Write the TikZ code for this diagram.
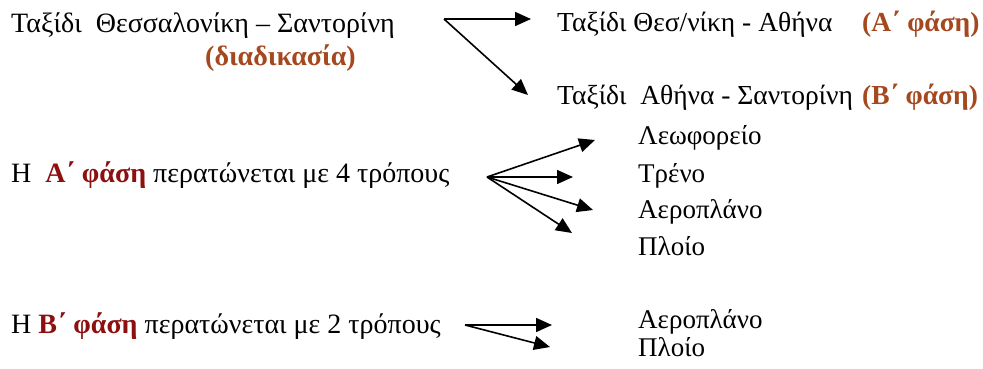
\documentclass[tikz,border=0pt]{standalone}
\usepackage{fontspec}
\setmainfont{Liberation Serif}
\usetikzlibrary{arrows.meta}

\definecolor{PhaseBrown}{RGB}{165,72,30}
\definecolor{PhaseRed}{RGB}{140,16,16}

\tikzset{
	BigText/.style={anchor=base west, inner sep=0pt, font=\fontsize{28}{32}\selectfont},
	MidText/.style={anchor=base west, inner sep=0pt, font=\fontsize{27.5}{31}\selectfont},
	ListText/.style={anchor=base west, inner sep=0pt, font=\fontsize{27}{31}\selectfont},
	Phase/.style={text=PhaseBrown, font=\fontsize{27.5}{31}\selectfont\bfseries},
	Route/.style={line width=1.6pt, -{Triangle[length=16pt,width=14pt]}}
}

\begin{document}
\begin{tikzpicture}[x=1pt,y=-1pt]
	\useasboundingbox (0,0) rectangle (983,369);
	
	% whole trip and its two legs
	\node[BigText] (TripFull) at (11,33) {Ταξίδι\ \ Θεσσαλονίκη – Σαντορίνη};
	\node[BigText, text=PhaseBrown, font=\fontsize{28}{32}\selectfont\bfseries] (Process) at (205,66) {(διαδικασία)};
	\node[MidText] (TripA) at (557,32) {Ταξίδι Θεσ/νίκη - Αθήνα};
	\node[MidText, Phase] (PhaseA) at (862,32) {(Α΄ φάση)};
	\node[MidText] (TripB) at (557,104) {Ταξίδι\ \ Αθήνα - Σαντορίνη};
	\node[MidText, Phase] (PhaseB) at (862,104) {(Β΄ φάση)};
	
	\coordinate (Split) at (444,19);
	\coordinate (ToA)   at (531,19);
	\coordinate (ToB)   at (528,95);
	\draw [Route] (Split) -- (ToA);% first leg
	\draw [Route] (Split) -- (ToB);% second leg
	
	% first phase: four ways
	\node[BigText] (WaysA) at (11,182) {Η\ \ {\bfseries\color{PhaseRed}Α΄ φάση} περατώνεται με 4 τρόπους};
	\node[ListText] (Bus)    at (638,144) {Λεωφορείο};
	\node[ListText] (Train)  at (638,182) {Τρένο};
	\node[ListText] (PlaneA) at (638,218) {Αεροπλάνο};
	\node[ListText] (ShipA)  at (638,255) {Πλοίο};
	
	\coordinate (FanA)  at (487,177);
	\coordinate (FanA1) at (595,140);
	\coordinate (FanA2) at (573,177);
	\coordinate (FanA3) at (593,210);
	\coordinate (FanA4) at (572,233);
	\foreach \k in {1,...,4}
		\draw [Route] (FanA) -- (FanA\k);
	
	% second phase: two ways
	\node[BigText] (WaysB) at (11,333) {Η {\bfseries\color{PhaseRed}Β΄ φάση} περατώνεται με 2 τρόπους};
	\node[ListText] (PlaneB) at (638,328) {Αεροπλάνο};
	\node[ListText] (ShipB)  at (638,356) {Πλοίο};
	
	\coordinate (FanB)  at (465,325);
	\coordinate (FanB1) at (552,325);
	\coordinate (FanB2) at (550,347);
	\foreach \k in {1,2}
		\draw [Route] (FanB) -- (FanB\k);
	
\end{tikzpicture}
\end{document}
